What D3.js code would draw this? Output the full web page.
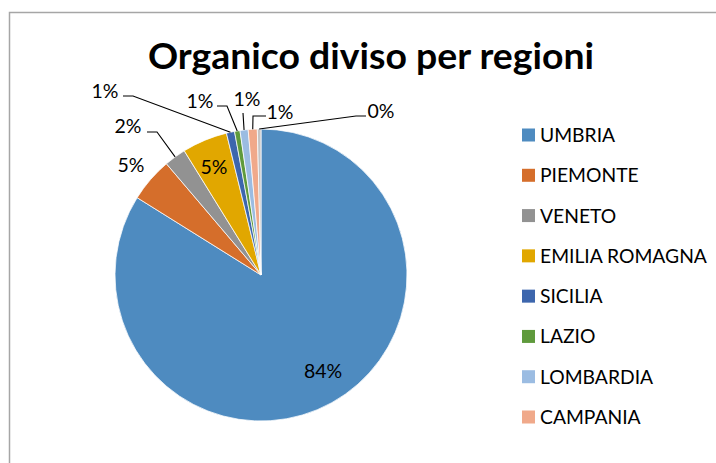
<!DOCTYPE html>
<html>
<head>
<meta charset="utf-8">
<script src="https://cdn.jsdelivr.net/npm/d3@7"></script>
<style>
  body { margin: 0; background: #fff; }
  svg { display: block; }
  text { font-family: Lato, "Liberation Sans", sans-serif; fill: #000; }
</style>
</head>
<body>
<svg id="chart" width="716" height="463"></svg>
<script>
// data (percent of staff per region)
const regions = ["UMBRIA", "PIEMONTE", "VENETO", "EMILIA ROMAGNA", "SICILIA", "LAZIO", "LOMBARDIA", "CAMPANIA", "ALTRO"];
const values = [83.8, 4.9, 2.4, 5.0, 0.9, 0.6, 0.9, 1.0, 0.4];
const colors = ["#4e8bc0", "#d56e2b", "#929292", "#e1a700", "#3d66ad", "#5f9a3c", "#9bbce2", "#f0a98a", "#c4c4c4"];
// only the first 8 entries fit in the legend box
const legendCount = 8;

// where each data label sits (text centre, baseline) and where its leader line bends
const labelPos = [
  { x: 323, y: 378 },
  { x: 131, y: 172 },
  { x: 128, y: 133, elbow: [157, 132], from: [147, 132] },
  { x: 214, y: 174 },
  { x: 105, y: 98, elbow: [133, 96], from: [123, 96] },
  { x: 200, y: 108, elbow: [227, 106], from: [217, 106] },
  { x: 247, y: 106, elbow: null, from: [243, 113] },
  { x: 280, y: 119, elbow: [253, 116], from: [266, 116] },
  { x: 381, y: 118, elbow: [356, 116], from: [366, 116] }
];

const svg = d3.select("#chart");
const cx = 261, cy = 275, r = 146;

// chart area border
svg.append("path")
  .attr("d", "M9.5,470 L9.5,12.5 L720,12.5")
  .attr("fill", "none")
  .attr("stroke", "#a6a6a6")
  .attr("stroke-width", 1.5);

// title
svg.append("text")
  .attr("x", 371)
  .attr("y", 69)
  .attr("text-anchor", "middle")
  .attr("textLength", 446)
  .attr("lengthAdjust", "spacingAndGlyphs")
  .style("font-size", "36px")
  .style("font-weight", "bold")
  .text("Organico diviso per regioni");

const pie = d3.pie().sort(null).value(d => d);
const arcs = pie(values);
const arc = d3.arc().innerRadius(0).outerRadius(r);
const edge = d3.arc().innerRadius(r).outerRadius(r);

const g = svg.append("g").attr("transform", `translate(${cx},${cy})`);

g.selectAll("path.slice")
  .data(arcs)
  .enter()
  .append("path")
  .attr("class", "slice")
  .attr("d", arc)
  .attr("fill", (d, i) => colors[i])
  .attr("stroke", "#fff")
  .attr("stroke-width", 0.75);

// leader lines
const fmt = v => Math.round(v / d3.sum(values) * 100) + "%";
arcs.forEach((d, i) => {
  const p = labelPos[i];
  if (!p.from) return;
  const end = edge.centroid(d);
  const pts = [p.from];
  if (p.elbow) pts.push(p.elbow);
  pts.push([end[0] + cx, end[1] + cy]);
  svg.append("path")
    .attr("d", d3.line()(pts))
    .attr("fill", "none")
    .attr("stroke", "#000")
    .attr("stroke-width", 1.1);
});

// data labels
svg.selectAll("text.lbl")
  .data(arcs)
  .enter()
  .append("text")
  .attr("class", "lbl")
  .attr("x", (d, i) => labelPos[i].x)
  .attr("y", (d, i) => labelPos[i].y)
  .attr("text-anchor", "middle")
  .style("font-size", "19.5px")
  .text(d => fmt(d.value));

// legend
const legendY = d3.scaleLinear().domain([0, 7]).range([135, 417]);
const leg = svg.selectAll("g.leg")
  .data(regions.slice(0, legendCount))
  .enter()
  .append("g")
  .attr("class", "leg")
  .attr("transform", (d, i) => `translate(522,${legendY(i)})`);

leg.append("rect")
  .attr("x", 0)
  .attr("y", -6.5)
  .attr("width", 13)
  .attr("height", 13)
  .attr("fill", (d, i) => colors[i]);

leg.append("text")
  .attr("x", 18)
  .attr("y", 7)
  .style("font-size", "19.3px")
  .text(d => d);
</script>
</body>
</html>
